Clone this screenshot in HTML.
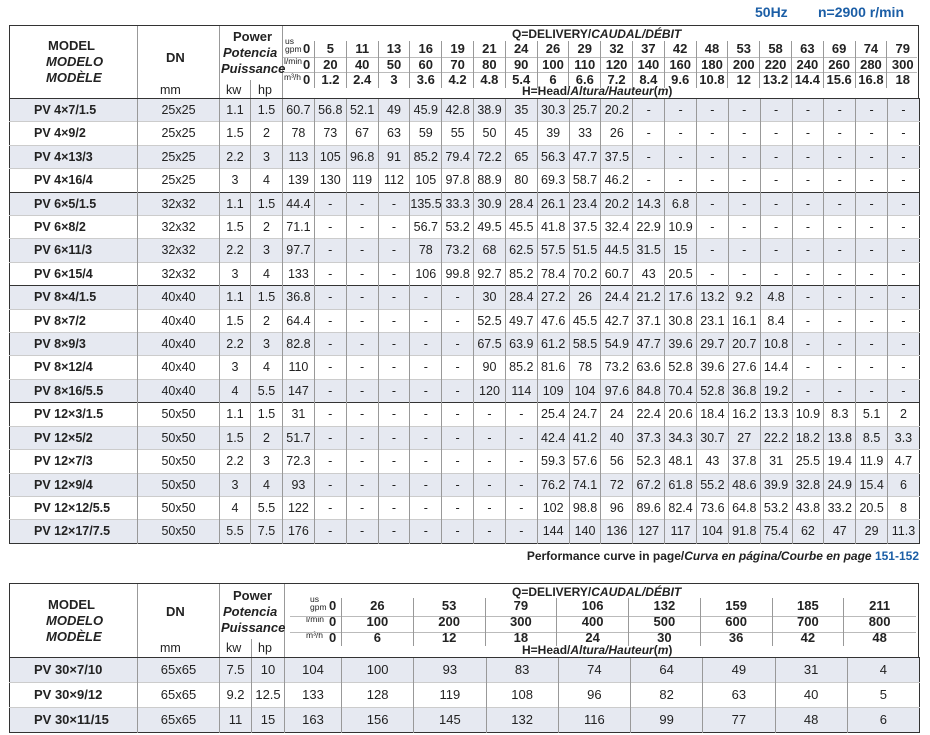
<!DOCTYPE html>
<html><head><meta charset="utf-8"><style>
*{margin:0;padding:0;box-sizing:border-box}
body{width:930px;height:735px;background:#fff;font-family:"Liberation Sans",sans-serif;color:#222;position:relative;overflow:hidden}
.a{position:absolute;white-space:nowrap}
.hz{color:#1b5ea6;font-weight:bold;font-size:14px}
.hd{position:absolute;border:1.5px solid #333;border-bottom:none;background:#fff}
.b{font-weight:bold}
.i{font-style:italic}
.vl{position:absolute;background:#999;width:1px}
.hl{position:absolute;background:#bbb;height:1px}
table{position:absolute;border-collapse:collapse;table-layout:fixed;font-size:12.5px}
td{text-align:center;border-left:1px solid #999;padding:0;overflow:hidden;white-space:nowrap}
td:first-child{border-left:none;text-align:left;padding-left:24px;font-weight:bold}
tr.s{background:#e6e9f1}
tr.g td{border-top:1.5px solid #333}
table{border:1.5px solid #333}
tr{border-top:1px solid #ccc}
.hb{font-weight:bold;font-size:13px}
</style></head><body>
<div class="a hz" style="left:755px;top:4px">50Hz</div>
<div class="a hz" style="left:818px;top:4px">n=2900 r/min</div>

<!-- TOP HEADER -->
<div class="hd" style="left:9px;top:25px;width:910px;height:75px"></div>
<div class="vl" style="left:137px;top:26px;height:73px"></div>
<div class="vl" style="left:219px;top:26px;height:73px"></div>
<div class="vl" style="left:282px;top:26px;height:73px"></div>
<div class="vl" style="left:250px;top:80px;height:19px"></div>
<div class="a hb" style="left:48px;top:38px">MODEL</div>
<div class="a hb i" style="left:46px;top:54px">MODELO</div>
<div class="a hb i" style="left:46px;top:70px">MODÈLE</div>
<div class="a hb" style="left:166px;top:50px">DN</div>
<div class="a" style="left:160px;top:83px;font-size:12.5px">mm</div>
<div class="a hb" style="left:233px;top:29px">Power</div>
<div class="a hb i" style="left:223px;top:45px">Potencia</div>
<div class="a hb i" style="left:221px;top:61px">Puissance</div>
<div class="a" style="left:226px;top:83px;font-size:12.5px">kw</div>
<div class="a" style="left:258px;top:83px;font-size:12.5px">hp</div>
<div class="a hb" style="left:512px;top:27px;font-size:12px">Q=DELIVERY/<i>CAUDAL/DÉBIT</i></div>
<div class="a hb" style="left:522px;top:84px;font-size:12px">H=Head/<i>Altura/Hauteur</i>(<i>m</i>)</div>
<div class="a" style="left:285px;top:37px;font-size:8.5px;line-height:8px">us<br>gpm</div>
<div class="a" style="left:284px;top:56px;font-size:8.5px">l/min</div>
<div class="a" style="left:284px;top:72px;font-size:8.5px">m³/h</div>
<div class="hl" style="left:283px;top:57px;width:634px"></div>
<div class="hl" style="left:283px;top:72px;width:634px"></div>
<div style="position:absolute;left:303px;top:41px;width:615px;font-weight:bold;font-size:13px;line-height:15.5px">
<div style="display:flex"><span style="width:11px">0</span><span style="width:31.8px;text-align:center;border-left:1px solid #999">5</span><span style="width:31.8px;text-align:center;border-left:1px solid #999">11</span><span style="width:31.8px;text-align:center;border-left:1px solid #999">13</span><span style="width:31.8px;text-align:center;border-left:1px solid #999">16</span><span style="width:31.8px;text-align:center;border-left:1px solid #999">19</span><span style="width:31.8px;text-align:center;border-left:1px solid #999">21</span><span style="width:31.8px;text-align:center;border-left:1px solid #999">24</span><span style="width:31.8px;text-align:center;border-left:1px solid #999">26</span><span style="width:31.8px;text-align:center;border-left:1px solid #999">29</span><span style="width:31.8px;text-align:center;border-left:1px solid #999">32</span><span style="width:31.8px;text-align:center;border-left:1px solid #999">37</span><span style="width:31.8px;text-align:center;border-left:1px solid #999">42</span><span style="width:31.8px;text-align:center;border-left:1px solid #999">48</span><span style="width:31.8px;text-align:center;border-left:1px solid #999">53</span><span style="width:31.8px;text-align:center;border-left:1px solid #999">58</span><span style="width:31.8px;text-align:center;border-left:1px solid #999">63</span><span style="width:31.8px;text-align:center;border-left:1px solid #999">69</span><span style="width:31.8px;text-align:center;border-left:1px solid #999">74</span><span style="width:31.8px;text-align:center;border-left:1px solid #999">79</span></div>
<div style="display:flex"><span style="width:11px">0</span><span style="width:31.8px;text-align:center;border-left:1px solid #999">20</span><span style="width:31.8px;text-align:center;border-left:1px solid #999">40</span><span style="width:31.8px;text-align:center;border-left:1px solid #999">50</span><span style="width:31.8px;text-align:center;border-left:1px solid #999">60</span><span style="width:31.8px;text-align:center;border-left:1px solid #999">70</span><span style="width:31.8px;text-align:center;border-left:1px solid #999">80</span><span style="width:31.8px;text-align:center;border-left:1px solid #999">90</span><span style="width:31.8px;text-align:center;border-left:1px solid #999">100</span><span style="width:31.8px;text-align:center;border-left:1px solid #999">110</span><span style="width:31.8px;text-align:center;border-left:1px solid #999">120</span><span style="width:31.8px;text-align:center;border-left:1px solid #999">140</span><span style="width:31.8px;text-align:center;border-left:1px solid #999">160</span><span style="width:31.8px;text-align:center;border-left:1px solid #999">180</span><span style="width:31.8px;text-align:center;border-left:1px solid #999">200</span><span style="width:31.8px;text-align:center;border-left:1px solid #999">220</span><span style="width:31.8px;text-align:center;border-left:1px solid #999">240</span><span style="width:31.8px;text-align:center;border-left:1px solid #999">260</span><span style="width:31.8px;text-align:center;border-left:1px solid #999">280</span><span style="width:31.8px;text-align:center;border-left:1px solid #999">300</span></div>
<div style="display:flex"><span style="width:11px">0</span><span style="width:31.8px;text-align:center;border-left:1px solid #999">1.2</span><span style="width:31.8px;text-align:center;border-left:1px solid #999">2.4</span><span style="width:31.8px;text-align:center;border-left:1px solid #999">3</span><span style="width:31.8px;text-align:center;border-left:1px solid #999">3.6</span><span style="width:31.8px;text-align:center;border-left:1px solid #999">4.2</span><span style="width:31.8px;text-align:center;border-left:1px solid #999">4.8</span><span style="width:31.8px;text-align:center;border-left:1px solid #999">5.4</span><span style="width:31.8px;text-align:center;border-left:1px solid #999">6</span><span style="width:31.8px;text-align:center;border-left:1px solid #999">6.6</span><span style="width:31.8px;text-align:center;border-left:1px solid #999">7.2</span><span style="width:31.8px;text-align:center;border-left:1px solid #999">8.4</span><span style="width:31.8px;text-align:center;border-left:1px solid #999">9.6</span><span style="width:31.8px;text-align:center;border-left:1px solid #999">10.8</span><span style="width:31.8px;text-align:center;border-left:1px solid #999">12</span><span style="width:31.8px;text-align:center;border-left:1px solid #999">13.2</span><span style="width:31.8px;text-align:center;border-left:1px solid #999">14.4</span><span style="width:31.8px;text-align:center;border-left:1px solid #999">15.6</span><span style="width:31.8px;text-align:center;border-left:1px solid #999">16.8</span><span style="width:31.8px;text-align:center;border-left:1px solid #999">18</span></div>
</div>

<!-- TOP BODY -->
<table style="left:9px;top:98px;width:910px">
<colgroup><col style="width:128px"><col style="width:82px"><col style="width:31px"><col style="width:32px"><col span="20" style="width:31.85px"></colgroup>
<tbody style="line-height:22.4px">
<tr class="s g"><td>PV 4×7/1.5</td><td>25x25</td><td>1.1</td><td>1.5</td><td>60.7</td><td>56.8</td><td>52.1</td><td>49</td><td>45.9</td><td>42.8</td><td>38.9</td><td>35</td><td>30.3</td><td>25.7</td><td>20.2</td><td>-</td><td>-</td><td>-</td><td>-</td><td>-</td><td>-</td><td>-</td><td>-</td><td>-</td></tr>
<tr><td>PV 4×9/2</td><td>25x25</td><td>1.5</td><td>2</td><td>78</td><td>73</td><td>67</td><td>63</td><td>59</td><td>55</td><td>50</td><td>45</td><td>39</td><td>33</td><td>26</td><td>-</td><td>-</td><td>-</td><td>-</td><td>-</td><td>-</td><td>-</td><td>-</td><td>-</td></tr>
<tr class="s"><td>PV 4×13/3</td><td>25x25</td><td>2.2</td><td>3</td><td>113</td><td>105</td><td>96.8</td><td>91</td><td>85.2</td><td>79.4</td><td>72.2</td><td>65</td><td>56.3</td><td>47.7</td><td>37.5</td><td>-</td><td>-</td><td>-</td><td>-</td><td>-</td><td>-</td><td>-</td><td>-</td><td>-</td></tr>
<tr><td>PV 4×16/4</td><td>25x25</td><td>3</td><td>4</td><td>139</td><td>130</td><td>119</td><td>112</td><td>105</td><td>97.8</td><td>88.9</td><td>80</td><td>69.3</td><td>58.7</td><td>46.2</td><td>-</td><td>-</td><td>-</td><td>-</td><td>-</td><td>-</td><td>-</td><td>-</td><td>-</td></tr>
<tr class="s g"><td>PV 6×5/1.5</td><td>32x32</td><td>1.1</td><td>1.5</td><td>44.4</td><td>-</td><td>-</td><td>-</td><td>135.5</td><td>33.3</td><td>30.9</td><td>28.4</td><td>26.1</td><td>23.4</td><td>20.2</td><td>14.3</td><td>6.8</td><td>-</td><td>-</td><td>-</td><td>-</td><td>-</td><td>-</td><td>-</td></tr>
<tr><td>PV 6×8/2</td><td>32x32</td><td>1.5</td><td>2</td><td>71.1</td><td>-</td><td>-</td><td>-</td><td>56.7</td><td>53.2</td><td>49.5</td><td>45.5</td><td>41.8</td><td>37.5</td><td>32.4</td><td>22.9</td><td>10.9</td><td>-</td><td>-</td><td>-</td><td>-</td><td>-</td><td>-</td><td>-</td></tr>
<tr class="s"><td>PV 6×11/3</td><td>32x32</td><td>2.2</td><td>3</td><td>97.7</td><td>-</td><td>-</td><td>-</td><td>78</td><td>73.2</td><td>68</td><td>62.5</td><td>57.5</td><td>51.5</td><td>44.5</td><td>31.5</td><td>15</td><td>-</td><td>-</td><td>-</td><td>-</td><td>-</td><td>-</td><td>-</td></tr>
<tr><td>PV 6×15/4</td><td>32x32</td><td>3</td><td>4</td><td>133</td><td>-</td><td>-</td><td>-</td><td>106</td><td>99.8</td><td>92.7</td><td>85.2</td><td>78.4</td><td>70.2</td><td>60.7</td><td>43</td><td>20.5</td><td>-</td><td>-</td><td>-</td><td>-</td><td>-</td><td>-</td><td>-</td></tr>
<tr class="s g"><td>PV 8×4/1.5</td><td>40x40</td><td>1.1</td><td>1.5</td><td>36.8</td><td>-</td><td>-</td><td>-</td><td>-</td><td>-</td><td>30</td><td>28.4</td><td>27.2</td><td>26</td><td>24.4</td><td>21.2</td><td>17.6</td><td>13.2</td><td>9.2</td><td>4.8</td><td>-</td><td>-</td><td>-</td><td>-</td></tr>
<tr><td>PV 8×7/2</td><td>40x40</td><td>1.5</td><td>2</td><td>64.4</td><td>-</td><td>-</td><td>-</td><td>-</td><td>-</td><td>52.5</td><td>49.7</td><td>47.6</td><td>45.5</td><td>42.7</td><td>37.1</td><td>30.8</td><td>23.1</td><td>16.1</td><td>8.4</td><td>-</td><td>-</td><td>-</td><td>-</td></tr>
<tr class="s"><td>PV 8×9/3</td><td>40x40</td><td>2.2</td><td>3</td><td>82.8</td><td>-</td><td>-</td><td>-</td><td>-</td><td>-</td><td>67.5</td><td>63.9</td><td>61.2</td><td>58.5</td><td>54.9</td><td>47.7</td><td>39.6</td><td>29.7</td><td>20.7</td><td>10.8</td><td>-</td><td>-</td><td>-</td><td>-</td></tr>
<tr><td>PV 8×12/4</td><td>40x40</td><td>3</td><td>4</td><td>110</td><td>-</td><td>-</td><td>-</td><td>-</td><td>-</td><td>90</td><td>85.2</td><td>81.6</td><td>78</td><td>73.2</td><td>63.6</td><td>52.8</td><td>39.6</td><td>27.6</td><td>14.4</td><td>-</td><td>-</td><td>-</td><td>-</td></tr>
<tr class="s"><td>PV 8×16/5.5</td><td>40x40</td><td>4</td><td>5.5</td><td>147</td><td>-</td><td>-</td><td>-</td><td>-</td><td>-</td><td>120</td><td>114</td><td>109</td><td>104</td><td>97.6</td><td>84.8</td><td>70.4</td><td>52.8</td><td>36.8</td><td>19.2</td><td>-</td><td>-</td><td>-</td><td>-</td></tr>
<tr class="g"><td>PV 12×3/1.5</td><td>50x50</td><td>1.1</td><td>1.5</td><td>31</td><td>-</td><td>-</td><td>-</td><td>-</td><td>-</td><td>-</td><td>-</td><td>25.4</td><td>24.7</td><td>24</td><td>22.4</td><td>20.6</td><td>18.4</td><td>16.2</td><td>13.3</td><td>10.9</td><td>8.3</td><td>5.1</td><td>2</td></tr>
<tr class="s"><td>PV 12×5/2</td><td>50x50</td><td>1.5</td><td>2</td><td>51.7</td><td>-</td><td>-</td><td>-</td><td>-</td><td>-</td><td>-</td><td>-</td><td>42.4</td><td>41.2</td><td>40</td><td>37.3</td><td>34.3</td><td>30.7</td><td>27</td><td>22.2</td><td>18.2</td><td>13.8</td><td>8.5</td><td>3.3</td></tr>
<tr><td>PV 12×7/3</td><td>50x50</td><td>2.2</td><td>3</td><td>72.3</td><td>-</td><td>-</td><td>-</td><td>-</td><td>-</td><td>-</td><td>-</td><td>59.3</td><td>57.6</td><td>56</td><td>52.3</td><td>48.1</td><td>43</td><td>37.8</td><td>31</td><td>25.5</td><td>19.4</td><td>11.9</td><td>4.7</td></tr>
<tr class="s"><td>PV 12×9/4</td><td>50x50</td><td>3</td><td>4</td><td>93</td><td>-</td><td>-</td><td>-</td><td>-</td><td>-</td><td>-</td><td>-</td><td>76.2</td><td>74.1</td><td>72</td><td>67.2</td><td>61.8</td><td>55.2</td><td>48.6</td><td>39.9</td><td>32.8</td><td>24.9</td><td>15.4</td><td>6</td></tr>
<tr><td>PV 12×12/5.5</td><td>50x50</td><td>4</td><td>5.5</td><td>122</td><td>-</td><td>-</td><td>-</td><td>-</td><td>-</td><td>-</td><td>-</td><td>102</td><td>98.8</td><td>96</td><td>89.6</td><td>82.4</td><td>73.6</td><td>64.8</td><td>53.2</td><td>43.8</td><td>33.2</td><td>20.5</td><td>8</td></tr>
<tr class="s"><td>PV 12×17/7.5</td><td>50x50</td><td>5.5</td><td>7.5</td><td>176</td><td>-</td><td>-</td><td>-</td><td>-</td><td>-</td><td>-</td><td>-</td><td>144</td><td>140</td><td>136</td><td>127</td><td>117</td><td>104</td><td>91.8</td><td>75.4</td><td>62</td><td>47</td><td>29</td><td>11.3</td></tr>
</tbody></table>

<div class="a b" style="right:11px;top:549px;font-size:12px">Performance curve in page/<i>Curva en página/Courbe en page</i> <span style="color:#1b5ea6">151-152</span></div>

<!-- BOTTOM HEADER -->
<div class="hd" style="left:9px;top:583px;width:910px;height:76px"></div>
<div class="vl" style="left:137px;top:584px;height:74px"></div>
<div class="vl" style="left:219px;top:584px;height:74px"></div>
<div class="vl" style="left:284px;top:584px;height:74px"></div>
<div class="vl" style="left:251px;top:639px;height:19px"></div>
<div class="a hb" style="left:48px;top:597px">MODEL</div>
<div class="a hb i" style="left:46px;top:613px">MODELO</div>
<div class="a hb i" style="left:46px;top:629px">MODÈLE</div>
<div class="a hb" style="left:166px;top:604px">DN</div>
<div class="a" style="left:160px;top:641px;font-size:12.5px">mm</div>
<div class="a hb" style="left:233px;top:588px">Power</div>
<div class="a hb i" style="left:223px;top:604px">Potencia</div>
<div class="a hb i" style="left:221px;top:620px">Puissance</div>
<div class="a" style="left:226px;top:641px;font-size:12.5px">kw</div>
<div class="a" style="left:258px;top:641px;font-size:12.5px">hp</div>
<div class="a hb" style="left:512px;top:585px;font-size:12px">Q=DELIVERY/<i>CAUDAL/DÉBIT</i></div>
<div class="a hb" style="left:522px;top:643px;font-size:12px">H=Head/<i>Altura/Hauteur</i>(<i>m</i>)</div>
<div class="a" style="left:310px;top:595px;font-size:8.5px;line-height:8px">us<br>gpm</div>
<div class="a" style="left:306px;top:614px;font-size:8.5px">l/min</div>
<div class="a" style="left:306px;top:630px;font-size:8.5px">m³/h</div>
<div class="hl" style="left:290px;top:616px;width:626px"></div>
<div class="hl" style="left:290px;top:632px;width:626px"></div>
<div style="position:absolute;left:329px;top:598px;font-weight:bold;font-size:13px;line-height:16px">
<div style="display:flex"><span style="width:12px">0</span><span style="width:71.75px;text-align:center;border-left:1px solid #999">26</span><span style="width:71.75px;text-align:center;border-left:1px solid #999">53</span><span style="width:71.75px;text-align:center;border-left:1px solid #999">79</span><span style="width:71.75px;text-align:center;border-left:1px solid #999">106</span><span style="width:71.75px;text-align:center;border-left:1px solid #999">132</span><span style="width:71.75px;text-align:center;border-left:1px solid #999">159</span><span style="width:71.75px;text-align:center;border-left:1px solid #999">185</span><span style="width:71.75px;text-align:center;border-left:1px solid #999">211</span></div>
<div style="display:flex"><span style="width:12px">0</span><span style="width:71.75px;text-align:center;border-left:1px solid #999">100</span><span style="width:71.75px;text-align:center;border-left:1px solid #999">200</span><span style="width:71.75px;text-align:center;border-left:1px solid #999">300</span><span style="width:71.75px;text-align:center;border-left:1px solid #999">400</span><span style="width:71.75px;text-align:center;border-left:1px solid #999">500</span><span style="width:71.75px;text-align:center;border-left:1px solid #999">600</span><span style="width:71.75px;text-align:center;border-left:1px solid #999">700</span><span style="width:71.75px;text-align:center;border-left:1px solid #999">800</span></div>
<div style="display:flex"><span style="width:12px">0</span><span style="width:71.75px;text-align:center;border-left:1px solid #999">6</span><span style="width:71.75px;text-align:center;border-left:1px solid #999">12</span><span style="width:71.75px;text-align:center;border-left:1px solid #999">18</span><span style="width:71.75px;text-align:center;border-left:1px solid #999">24</span><span style="width:71.75px;text-align:center;border-left:1px solid #999">30</span><span style="width:71.75px;text-align:center;border-left:1px solid #999">36</span><span style="width:71.75px;text-align:center;border-left:1px solid #999">42</span><span style="width:71.75px;text-align:center;border-left:1px solid #999">48</span></div>
</div>

<!-- BOTTOM BODY -->
<table style="left:9px;top:657px;width:910px;font-size:13px">
<colgroup><col style="width:128px"><col style="width:82px"><col style="width:32px"><col style="width:33px"><col style="width:57px"><col span="8" style="width:72.25px"></colgroup>
<tbody style="line-height:24px">
<tr class="s g"><td>PV 30×7/10</td><td>65x65</td><td>7.5</td><td>10</td><td>104</td><td>100</td><td>93</td><td>83</td><td>74</td><td>64</td><td>49</td><td>31</td><td>4</td></tr>
<tr><td>PV 30×9/12</td><td>65x65</td><td>9.2</td><td>12.5</td><td>133</td><td>128</td><td>119</td><td>108</td><td>96</td><td>82</td><td>63</td><td>40</td><td>5</td></tr>
<tr class="s"><td>PV 30×11/15</td><td>65x65</td><td>11</td><td>15</td><td>163</td><td>156</td><td>145</td><td>132</td><td>116</td><td>99</td><td>77</td><td>48</td><td>6</td></tr>
</tbody></table>
</body></html>
